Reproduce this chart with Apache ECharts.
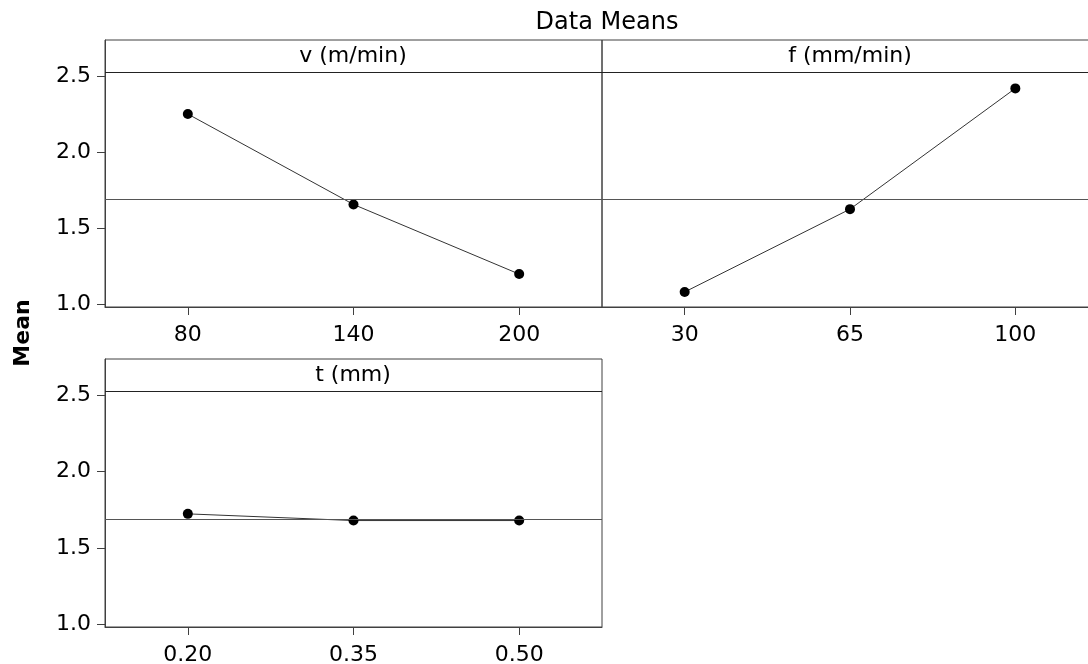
<!DOCTYPE html>
<html>
<head>
<meta charset="utf-8">
<title>Data Means</title>
<script src="https://cdn.jsdelivr.net/npm/echarts@6/dist/echarts.min.js"></script>
<style>
    html, body { margin: 0; padding: 0; background: #fff; overflow: hidden; }
    /* a little wider than the window: the right panel runs off the edge in the original */
    #main { width: 1100px; height: 664px; }
</style>
</head>
<body>
<div id="main"></div>
<script>
// factor levels
const V_LEVELS = ['80', '140', '200'];
const F_LEVELS = ['30', '65', '100'];
const T_LEVELS = ['0.20', '0.35', '0.50'];

// means
const V_MEANS = [2.252, 1.656, 1.197];
const F_MEANS = [1.079, 1.625, 2.421];
const T_MEANS = [1.723, 1.679, 1.679];

const GRAND_MEAN = 1.691;
const Y_TICKS = [1.0, 1.5, 2.0, 2.5];
const PANEL_TITLES = ['v (m/min)', 'f (mm/min)', 't (mm)'];

window.addEventListener('load', function () {
    let chart = echarts.init(document.getElementById('main'));

    const FONT = 'DejaVu Sans';
    const EDGE = '#404040';
    const Y_MIN = 0.98, Y_MAX = 2.74;
    const STRIP_Y = 2.527;   // bottom of the header strip, in data units

    function xAxis(idx, levels) {
        return {
            type: 'category',
            gridIndex: idx,
            data: levels,
            boundaryGap: true,
            axisLine: { show: true, lineStyle: { color: EDGE, width: 1 } },
            axisTick: { show: true, alignWithLabel: true, length: 8, lineStyle: { color: EDGE } },
            axisLabel: { fontFamily: FONT, fontSize: 22, color: '#000', margin: 17 },
            splitLine: { show: false }
        };
    }

    function yAxis(idx, showLabels) {
        return {
            type: 'value',
            gridIndex: idx,
            min: Y_MIN,
            max: Y_MAX,
            show: showLabels,
            axisLine: { show: true, lineStyle: { color: EDGE, width: 1 } },
            axisTick: { show: true, length: 8, customValues: Y_TICKS, lineStyle: { color: EDGE } },
            axisLabel: {
                customValues: Y_TICKS,
                fontFamily: FONT, fontSize: 22, color: '#000', margin: 14,
                formatter: function (v) { return v.toFixed(1); }
            },
            splitLine: { show: false }
        };
    }

    function series(idx, values) {
        return {
            type: 'line',
            xAxisIndex: idx,
            yAxisIndex: idx,
            data: values,
            symbol: 'circle',
            symbolSize: 10,
            itemStyle: { color: '#000' },
            lineStyle: { color: '#333', width: 1 },
            silent: true,
            markLine: {
                silent: true,
                symbol: 'none',
                label: { show: false },
                lineStyle: { type: 'solid', color: '#555', width: 1 },
                data: [{ yAxis: GRAND_MEAN }, { yAxis: STRIP_Y, lineStyle: { color: '#222' } }]
            }
        };
    }

    let option = {
        animation: false,
        grid: [
            { left: 105, top: 40, width: 497, height: 267, outerBoundsMode: 'none', show: true, borderColor: EDGE, borderWidth: 1 },
            { left: 602, top: 40, width: 496, height: 267, outerBoundsMode: 'none', show: true, borderColor: EDGE, borderWidth: 1 },
            { left: 105, top: 359, width: 497, height: 268, outerBoundsMode: 'none', show: true, borderColor: EDGE, borderWidth: 1 }
        ],
        xAxis: [xAxis(0, V_LEVELS), xAxis(1, F_LEVELS), xAxis(2, T_LEVELS)],
        yAxis: [yAxis(0, true), yAxis(1, false), yAxis(2, true)],
        series: [series(0, V_MEANS), series(1, F_MEANS), series(2, T_MEANS)],
        graphic: [
            { type: 'text', x: 607, y: 23, style: { text: 'Data Means', font: '24px "DejaVu Sans"', fill: '#000', textAlign: 'center', textVerticalAlign: 'middle' } },
            { type: 'text', x: 353, y: 56, style: { text: PANEL_TITLES[0], font: '22px "DejaVu Sans"', fill: '#000', textAlign: 'center', textVerticalAlign: 'middle' } },
            { type: 'text', x: 850, y: 56, style: { text: PANEL_TITLES[1], font: '22px "DejaVu Sans"', fill: '#000', textAlign: 'center', textVerticalAlign: 'middle' } },
            { type: 'text', x: 353, y: 375, style: { text: PANEL_TITLES[2], font: '22px "DejaVu Sans"', fill: '#000', textAlign: 'center', textVerticalAlign: 'middle' } },
            { type: 'text', x: 23, y: 333, rotation: Math.PI / 2, style: { text: 'Mean', font: 'bold 22px "DejaVu Sans"', fill: '#000', textAlign: 'center', textVerticalAlign: 'middle' } }
        ]
    };
    chart.setOption(option);
}, false);
</script>
</body>
</html>
